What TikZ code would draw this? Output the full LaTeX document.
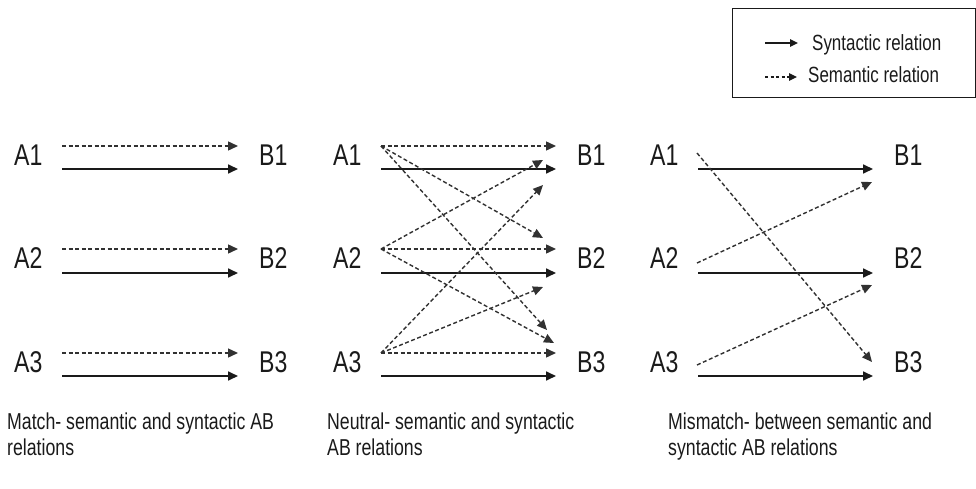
\documentclass[tikz,border=0pt]{standalone}
\usepackage{fontspec}
\setmainfont{Liberation Sans}[FakeStretch=0.77]
\usetikzlibrary{arrows.meta}
\definecolor{ink}{HTML}{1A1A1A}
\tikzset{
  lab/.style={anchor=base west, inner sep=0pt, text=ink, font=\fontsize{30}{30}\selectfont},
  captxt/.style={anchor=base west, inner sep=0pt, text=ink, align=left, font=\fontsize{23}{26}\selectfont},
  legtext/.style={anchor=base west, inner sep=0pt, text=ink, font=\fontsize{22}{22}\selectfont},
  syn/.style={draw=ink, line width=1.7pt, -{Triangle[length=10pt,width=9pt]}},
  sem/.style={draw=ink!90, line width=1.4pt, dash pattern=on 4pt off 2.5pt, -{Triangle[length=10pt,width=9pt]}},
  lsyn/.style={draw=ink, line width=1.4pt, -{Triangle[length=8pt,width=7.5pt]}},
  lsem/.style={draw=ink, line width=1.2pt, dash pattern=on 3pt off 2.5pt, -{Triangle[length=8pt,width=7.5pt]}},
}
\begin{document}
\begin{tikzpicture}[x=1pt,y=-1pt]
\useasboundingbox (0,0) rectangle (976,489);
% legend
\node[draw=ink, line width=1pt, minimum width=243pt, minimum height=89pt, anchor=north west, inner sep=0pt] (legend) at (732,8) {};
\coordinate (ls1) at (765,43); \coordinate (le1) at (798,43);
\coordinate (ls2) at (765,77); \coordinate (le2) at (797,77);
\draw[lsyn] (ls1) -- (le1);
\draw[lsem] (ls2) -- (le2);
\node[legtext] (t1) at (812,51) {Syntactic relation};
\node[legtext] (t2) at (808,83) {Semantic relation};

% labels
\foreach \r/\yb in {1/165,2/268,3/372}{
  \node[lab] (pA\r) at (14,\yb) {A\r};
  \node[lab] (pB\r) at (259,\yb) {B\r};
  \node[lab] (qA\r) at (333,\yb) {A\r};
  \node[lab] (qB\r) at (577,\yb) {B\r};
  \node[lab] (rA\r) at (650,\yb) {A\r};
  \node[lab] (rB\r) at (894,\yb) {B\r};
}

% panel 1
\foreach \r/\yd/\ys in {1/146/169,2/249/273,3/353/376}{
  \coordinate (pa\r d) at (62,\yd); \coordinate (pb\r d) at (238,\yd);
  \coordinate (pa\r s) at (62,\ys); \coordinate (pb\r s) at (238,\ys);
  \draw[sem] (pa\r d) -- (pb\r d);
  \draw[syn] (pa\r s) -- (pb\r s);
}

% panel 2
\foreach \r/\yd/\ys in {1/146/169,2/249/273,3/353/376}{
  \coordinate (qa\r d) at (381,\yd); \coordinate (qb\r d) at (556,\yd);
  \coordinate (qa\r s) at (381,\ys); \coordinate (qb\r s) at (556,\ys);
  \draw[sem] (qa\r d) -- (qb\r d);
  \draw[syn] (qa\r s) -- (qb\r s);
}
\coordinate (q21) at (543,160);
\coordinate (q31) at (543,185);
\coordinate (q12) at (543,238);
\coordinate (q32) at (543,287);
\coordinate (q13) at (547,330);
\coordinate (q23) at (554,343);
\draw[sem] (qa1d) -- (q12);
\draw[sem] (qa1d) -- (q13);
\draw[sem] (qa2d) -- (q21);
\draw[sem] (qa2d) -- (q23);
\draw[sem] (qa3d) -- (q31);
\draw[sem] (qa3d) -- (q32);

% panel 3
\foreach \r/\ys in {1/169,2/273,3/376}{
  \coordinate (ra\r s) at (698,\ys); \coordinate (rb\r s) at (873,\ys);
  \draw[syn] (ra\r s) -- (rb\r s);
}
\coordinate (r1s) at (697,153); \coordinate (r3e) at (872,362);
\coordinate (r2s) at (697,263); \coordinate (r1e) at (872,182);
\coordinate (r3s) at (697,365); \coordinate (r2e) at (872,285);
\draw[sem] (r1s) -- (r3e);
\draw[sem] (r2s) -- (r1e);
\draw[sem] (r3s) -- (r2e);

% captions
\node[captxt] (c1) at (7,455) {Match- semantic and syntactic AB\\relations};
\node[captxt] (c2) at (327,455) {Neutral- semantic and syntactic\\AB relations};
\node[captxt] (c3) at (668,455) {Mismatch- between semantic and\\syntactic AB relations};
\end{tikzpicture}
\end{document}
